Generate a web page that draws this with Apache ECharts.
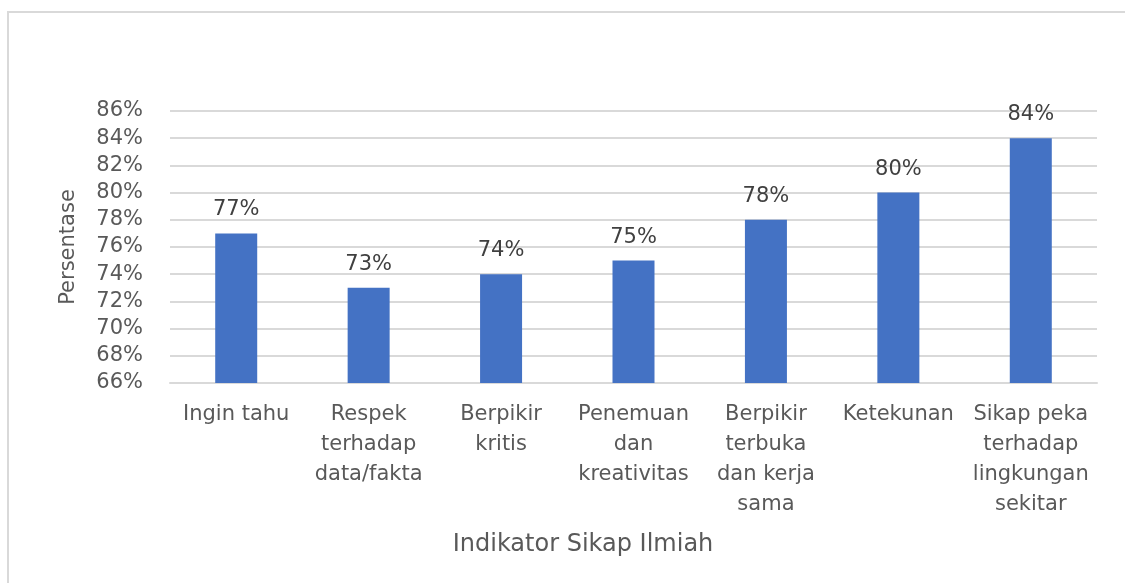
<!DOCTYPE html>
<html>
<head>
<meta charset="utf-8">
<script src="https://cdn.jsdelivr.net/npm/echarts@6/dist/echarts.min.js"></script>
<style>
  html, body { margin: 0; padding: 0; background: #fff; }
  #chart { width: 1125px; height: 583px; }
</style>
</head>
<body>
<div id="chart"></div>
<script>
// indikator sikap ilmiah
const categories = [
  'Ingin tahu',
  'Respek\nterhadap\ndata/fakta',
  'Berpikir\nkritis',
  'Penemuan\ndan\nkreativitas',
  'Berpikir\nterbuka\ndan kerja\nsama',
  'Ketekunan',
  'Sikap peka\nterhadap\nlingkungan\nsekitar',
];
const percentValues = [77, 73, 74, 75, 78, 80, 84];
const yMin = 66;
const yMax = 86;
const yStep = 2;

const FONT = '"DejaVu Sans", "Noto Sans", sans-serif';

const chart = echarts.init(document.getElementById('chart'));

chart.setOption({
  animation: false,
  grid: { left: 170, right: 28, top: 111, bottom: 200 },
  graphic: [
    {
      type: 'rect',
      shape: { x: 8, y: 12, width: 1200, height: 650 },
      style: { fill: 'none', stroke: '#d9d9d9', lineWidth: 2 },
      silent: true,
    },
    {
      type: 'text',
      x: 583,
      y: 545,
      style: {
        text: 'Indikator Sikap Ilmiah',
        fill: '#595959',
        font: '24px ' + FONT,
        align: 'center',
        verticalAlign: 'middle',
      },
    },
  ],
  xAxis: {
    type: 'category',
    data: categories,
    axisLine: { lineStyle: { color: '#d9d9d9', width: 2 } },
    axisTick: { show: false },
    axisLabel: {
      interval: 0,
      color: '#595959',
      fontFamily: FONT,
      fontSize: 21,
      lineHeight: 30,
      margin: 17,
      align: 'center',
    },
  },
  yAxis: {
    type: 'value',
    min: yMin,
    max: yMax,
    interval: yStep,
    name: 'Persentase',
    nameLocation: 'middle',
    nameGap: 91,
    nameTextStyle: { color: '#595959', fontFamily: FONT, fontSize: 21 },
    axisLine: { show: false },
    axisTick: { show: false },
    axisLabel: {
      formatter: '{value}%',
      color: '#595959',
      fontFamily: FONT,
      fontSize: 21,
      margin: 27,
    },
    splitLine: { lineStyle: { color: '#d9d9d9', width: 2 } },
  },
  series: [{
    type: 'bar',
    data: percentValues,
    barWidth: 42,
    itemStyle: { color: '#4472c4' },
    label: {
      show: true,
      position: 'top',
      distance: 13,
      formatter: '{c}%',
      color: '#404040',
      fontFamily: FONT,
      fontSize: 21,
    },
  }],
});
</script>
</body>
</html>
